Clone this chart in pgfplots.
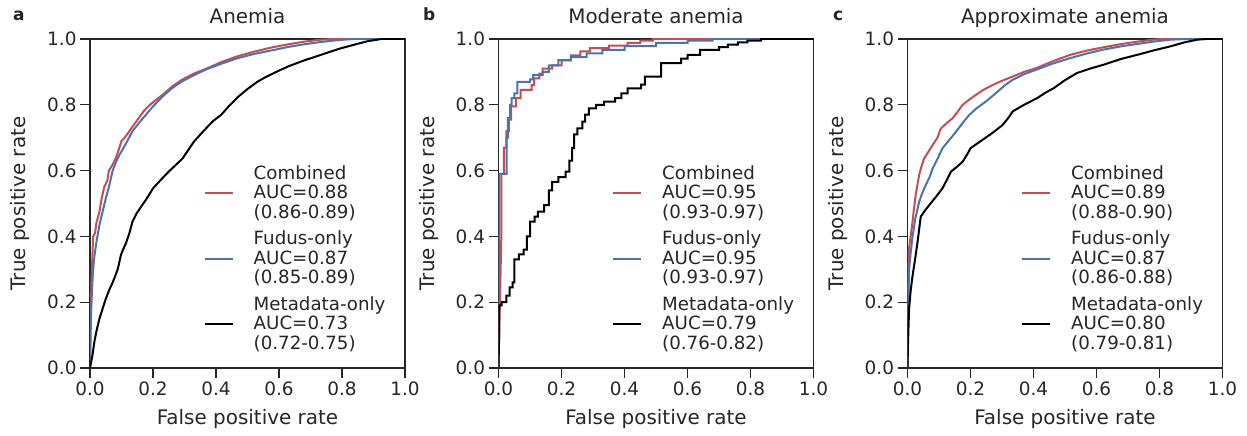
\documentclass[border=0pt]{standalone}
\usepackage{fontspec}
\setmainfont{DejaVu Sans}
\usepackage{pgfplots}
\pgfplotsset{compat=1.18}
\definecolor{cred}{RGB}{196,78,82}
\definecolor{cblue}{RGB}{76,114,176}
\definecolor{txt}{RGB}{38,38,38}
\pgfplotsset{rocax/.style={
  scale only axis, width=315bp, height=329bp, anchor=south west,
  xmin=0,xmax=1,ymin=0,ymax=1,
  xtick={0,0.2,0.4,0.6,0.8,1}, xticklabels={0.0,0.2,0.4,0.6,0.8,1.0},
  ytick={0,0.2,0.4,0.6,0.8,1}, yticklabels={0.0,0.2,0.4,0.6,0.8,1.0},
  tick pos=left, tick align=outside, major tick length=10bp,
  every tick/.style={txt, line width=1.2bp},
  axis line style={txt, line width=1.2bp},
  tick label style={font=\fontsize{18.5}{22}\selectfont, text=txt},
  label style={font=\fontsize{20}{24}\selectfont, text=txt},
  title style={font=\fontsize{20}{24}\selectfont, text=txt, at={(axis description cs:0.5,1.0295)}, anchor=base},
  xlabel={False positive rate}, ylabel={True positive rate},
  xlabel style={at={(axis description cs:0.5,-0.173)}, anchor=base},
  ylabel style={at={(axis description cs:-0.222,0.5)}, anchor=center},
  legend image code/.code={\draw[#1] (0bp,-10bp) -- (28bp,-10bp);},
  legend cell align=left,
  legend style={draw=none, fill=none, inner sep=0pt, outer sep=0pt,
    at={(axis description cs:0.361,0.622)}, anchor=north west,
    font=\fontsize{18.3}{19.5}\selectfont, text=txt, row sep=26.5bp,
    /tikz/every odd column/.append style={column sep=18bp}},
  every axis plot/.append style={line width=2bp},
}}
\newcommand{\lgd}[3]{\begin{tabular}{@{}l@{}}#1\\AUC=#2\\(#3)\end{tabular}}
\begin{document}
\begin{tikzpicture}
\path[use as bounding box] (0,0) rectangle (1247bp,436bp);
% ---------------- a
\begin{axis}[rocax, at={(90bp,68bp)}, title={Anemia}]
\addplot[cred] coordinates {(0,0)(0.002,0.15)(0.005,0.27)(0.008,0.35)(0.01,0.40)(0.016,0.41)(0.02,0.44)(0.03,0.475)(0.036,0.51)(0.045,0.55)(0.055,0.57)(0.06,0.60)(0.07,0.615)(0.083,0.64)(0.09,0.66)(0.1,0.69)(0.11,0.70)(0.125,0.72)(0.14,0.74)(0.155,0.76)(0.17,0.78)(0.19,0.80)(0.21,0.815)(0.23,0.83)(0.26,0.855)(0.29,0.875)(0.33,0.895)(0.37,0.91)(0.417,0.93)(0.47,0.948)(0.523,0.962)(0.58,0.975)(0.63,0.984)(0.68,0.992)(0.734,0.998)(0.77,1.0)(1,1)};
\addlegendentry{\lgd{Combined}{0.88}{0.86-0.89}}
\addplot[cblue] coordinates {(0,0)(0.003,0.15)(0.006,0.23)(0.01,0.30)(0.014,0.34)(0.02,0.38)(0.03,0.435)(0.04,0.475)(0.05,0.515)(0.06,0.55)(0.072,0.60)(0.082,0.625)(0.093,0.647)(0.11,0.675)(0.135,0.72)(0.16,0.75)(0.2,0.795)(0.23,0.825)(0.26,0.85)(0.29,0.87)(0.33,0.89)(0.37,0.908)(0.417,0.925)(0.47,0.942)(0.523,0.955)(0.58,0.966)(0.63,0.976)(0.68,0.984)(0.734,0.991)(0.79,0.997)(0.84,1.0)(1,1)};
\addlegendentry{\lgd{Fudus-only}{0.87}{0.85-0.89}}
\addplot[black] coordinates {(0,0)(0.003,0.014)(0.008,0.04)(0.014,0.08)(0.02,0.11)(0.03,0.15)(0.04,0.18)(0.05,0.21)(0.06,0.235)(0.072,0.26)(0.08,0.28)(0.088,0.30)(0.098,0.343)(0.105,0.36)(0.114,0.379)(0.125,0.41)(0.135,0.445)(0.148,0.47)(0.162,0.49)(0.18,0.515)(0.2,0.546)(0.225,0.572)(0.25,0.597)(0.27,0.615)(0.294,0.637)(0.31,0.66)(0.33,0.688)(0.36,0.72)(0.39,0.75)(0.417,0.77)(0.44,0.795)(0.47,0.824)(0.5,0.848)(0.53,0.869)(0.555,0.883)(0.6,0.904)(0.63,0.917)(0.68,0.935)(0.734,0.952)(0.79,0.97)(0.84,0.983)(0.88,0.993)(0.925,1.0)(1,1)};
\addlegendentry{\lgd{Metadata-only}{0.73}{0.72-0.75}}
\end{axis}
% ---------------- b
\begin{axis}[rocax, at={(498.5bp,68bp)}, title={Moderate anemia}]
\addplot[cred] coordinates {(0,0)(0.009,0.40)(0.009,0.59)(0.017,0.59)(0.017,0.67)(0.025,0.67)(0.025,0.72)(0.033,0.72)(0.033,0.755)(0.04,0.755)(0.04,0.795)(0.055,0.795)(0.055,0.82)(0.07,0.82)(0.07,0.845)(0.105,0.845)(0.105,0.86)(0.113,0.86)(0.113,0.88)(0.13,0.88)(0.13,0.895)(0.14,0.895)(0.14,0.91)(0.17,0.91)(0.17,0.92)(0.2,0.92)(0.2,0.935)(0.23,0.935)(0.23,0.95)(0.26,0.95)(0.26,0.962)(0.29,0.962)(0.29,0.972)(0.35,0.972)(0.35,0.98)(0.41,0.98)(0.41,0.988)(0.45,0.988)(0.45,0.995)(0.49,0.995)(0.49,1.0)(1,1)};
\addlegendentry{\lgd{Combined}{0.95}{0.93-0.97}}
\addplot[cblue] coordinates {(0,0)(0.002,0.394)(0.002,0.59)(0.026,0.59)(0.026,0.70)(0.03,0.70)(0.03,0.76)(0.037,0.76)(0.037,0.80)(0.042,0.80)(0.042,0.82)(0.05,0.82)(0.05,0.835)(0.06,0.835)(0.06,0.87)(0.1,0.87)(0.1,0.877)(0.11,0.877)(0.11,0.89)(0.14,0.89)(0.14,0.9)(0.16,0.9)(0.16,0.92)(0.19,0.92)(0.19,0.936)(0.23,0.936)(0.23,0.945)(0.28,0.945)(0.28,0.956)(0.33,0.956)(0.33,0.967)(0.4,0.967)(0.4,0.978)(0.5,0.978)(0.5,0.988)(0.6,0.988)(0.6,0.995)(0.68,0.995)(0.68,1.0)(1,1)};
\addlegendentry{\lgd{Fudus-only}{0.95}{0.93-0.97}}
\addplot[black] coordinates {(0,0)(0.002,0.11)(0.002,0.19)(0.01,0.19)(0.01,0.2)(0.025,0.2)(0.025,0.22)(0.035,0.22)(0.035,0.245)(0.045,0.245)(0.045,0.26)(0.05,0.26)(0.05,0.33)(0.065,0.33)(0.065,0.345)(0.08,0.345)(0.08,0.36)(0.09,0.36)(0.09,0.40)(0.1,0.40)(0.1,0.445)(0.115,0.445)(0.115,0.46)(0.125,0.46)(0.125,0.475)(0.145,0.475)(0.145,0.495)(0.16,0.495)(0.16,0.54)(0.17,0.54)(0.17,0.566)(0.19,0.566)(0.19,0.58)(0.213,0.58)(0.213,0.597)(0.225,0.597)(0.225,0.63)(0.234,0.63)(0.234,0.668)(0.24,0.668)(0.24,0.71)(0.25,0.71)(0.25,0.728)(0.266,0.728)(0.266,0.749)(0.275,0.749)(0.275,0.77)(0.287,0.77)(0.287,0.789)(0.31,0.789)(0.31,0.8)(0.335,0.8)(0.335,0.81)(0.37,0.81)(0.37,0.82)(0.39,0.82)(0.39,0.835)(0.41,0.835)(0.41,0.85)(0.453,0.85)(0.453,0.861)(0.465,0.861)(0.465,0.886)(0.516,0.886)(0.516,0.927)(0.58,0.927)(0.58,0.94)(0.6,0.94)(0.6,0.952)(0.64,0.952)(0.64,0.967)(0.7,0.967)(0.7,0.975)(0.728,0.975)(0.728,0.983)(0.76,0.983)(0.76,0.99)(0.79,0.99)(0.79,0.995)(0.834,0.995)(0.834,1.0)(1,1)};
\addlegendentry{\lgd{Metadata-only}{0.79}{0.76-0.82}}
\end{axis}
% ---------------- c
\begin{axis}[rocax, at={(907.5bp,68bp)}, title={Approximate anemia}]
\addplot[cred] coordinates {(0,0)(0.001,0.15)(0.003,0.28)(0.005,0.364)(0.01,0.40)(0.016,0.445)(0.02,0.48)(0.026,0.526)(0.032,0.56)(0.037,0.587)(0.045,0.615)(0.053,0.637)(0.065,0.655)(0.08,0.678)(0.095,0.70)(0.106,0.728)(0.125,0.745)(0.143,0.759)(0.16,0.78)(0.175,0.8)(0.195,0.815)(0.217,0.83)(0.24,0.845)(0.27,0.86)(0.3,0.873)(0.334,0.886)(0.37,0.90)(0.41,0.912)(0.46,0.932)(0.517,0.952)(0.57,0.965)(0.623,0.975)(0.68,0.985)(0.73,0.992)(0.78,0.998)(0.81,1.0)(1,1)};
\addlegendentry{\lgd{Combined}{0.89}{0.88-0.90}}
\addplot[cblue] coordinates {(0,0)(0.001,0.12)(0.003,0.22)(0.005,0.30)(0.01,0.35)(0.016,0.40)(0.025,0.455)(0.037,0.505)(0.046,0.53)(0.058,0.556)(0.07,0.58)(0.08,0.607)(0.095,0.635)(0.111,0.668)(0.13,0.69)(0.154,0.718)(0.175,0.745)(0.196,0.769)(0.22,0.79)(0.249,0.81)(0.28,0.835)(0.31,0.86)(0.334,0.876)(0.37,0.893)(0.41,0.907)(0.46,0.925)(0.517,0.942)(0.57,0.956)(0.623,0.968)(0.68,0.978)(0.73,0.985)(0.78,0.992)(0.836,0.998)(0.89,1.0)(1,1)};
\addlegendentry{\lgd{Fudus-only}{0.87}{0.86-0.88}}
\addplot[black] coordinates {(0,0)(0.001,0.05)(0.003,0.12)(0.005,0.18)(0.01,0.235)(0.016,0.28)(0.024,0.33)(0.032,0.384)(0.042,0.46)(0.055,0.478)(0.069,0.495)(0.09,0.52)(0.111,0.546)(0.125,0.572)(0.138,0.597)(0.155,0.61)(0.175,0.627)(0.19,0.65)(0.2,0.668)(0.23,0.688)(0.26,0.708)(0.28,0.722)(0.302,0.739)(0.32,0.76)(0.334,0.78)(0.37,0.8)(0.411,0.82)(0.44,0.838)(0.465,0.851)(0.5,0.875)(0.539,0.897)(0.58,0.91)(0.623,0.922)(0.68,0.94)(0.73,0.952)(0.78,0.965)(0.836,0.978)(0.88,0.99)(0.92,0.998)(0.95,1.0)(1,1)};
\addlegendentry{\lgd{Metadata-only}{0.80}{0.79-0.81}}
\end{axis}
\node[anchor=base west, font=\fontsize{17}{20}\selectfont\bfseries, text=txt, inner sep=0pt] at (13bp,415bp) {a};
\node[anchor=base west, font=\fontsize{17}{20}\selectfont\bfseries, text=txt, inner sep=0pt] at (423bp,415bp) {b};
\node[anchor=base west, font=\fontsize{17}{20}\selectfont\bfseries, text=txt, inner sep=0pt] at (833bp,415bp) {c};
\end{tikzpicture}
\end{document}
